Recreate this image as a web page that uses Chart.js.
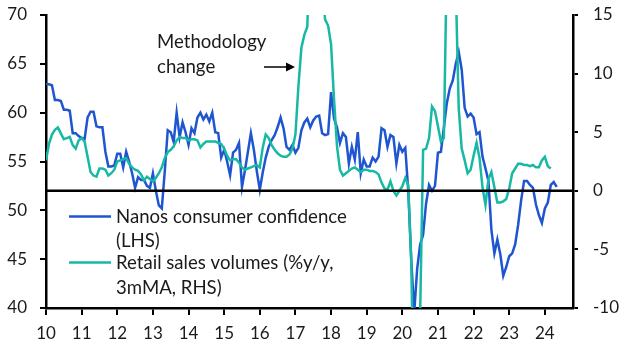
<!DOCTYPE html>
<html>
<head>
<meta charset="utf-8">
<script src="https://cdn.jsdelivr.net/npm/chart.js@4.4.1/dist/chart.umd.min.js"></script>
<style>
  html, body { margin: 0; padding: 0; background: #fff; }
</style>
</head>
<body>
<canvas id="chart" width="630" height="354"></canvas>
<script>
// monthly data, Jan 2010 onwards
const startYear = 2010;
const xTickLabels = ['10', '11', '12', '13', '14', '15', '16', '17', '18', '19', '20', '21', '22', '23', '24'];

// Nanos consumer confidence (LHS)
const nanos = [
  62.9, 62.9, 62.8, 61.3, 61.3, 61.2, 60.3, 60.3, 60.2, 57.9, 57.9, 57.6,
  57.4, 57.3, 59.5, 60.1, 60.1, 58.6, 58.5, 58.5, 56.0, 54.5, 54.5, 54.6,
  55.8, 55.8, 54.4, 56.0, 55.0, 53.8, 52.3, 53.4, 53.1, 53.1, 52.5, 52.3,
  53.8, 52.0, 50.5, 50.2, 54.0, 58.2, 58.0, 57.0, 60.0, 57.5, 59.0, 58.0,
  56.7, 58.4, 57.9, 59.5, 60.0, 59.3, 59.8, 59.1, 60.0, 58.0, 57.9, 55.4,
  56.2, 55.0, 53.6, 55.9, 56.2, 56.9, 52.4, 54.1, 56.0, 57.9, 56.2, 54.0,
  52.1, 53.9, 55.4, 56.5, 57.2, 57.7, 58.5, 59.5, 58.4, 56.5, 56.2, 56.7,
  55.9, 56.4, 58.2, 59.0, 59.4, 58.5, 59.2, 59.6, 59.7, 57.9, 57.7, 57.8,
  62.1, 59.4, 58.5, 56.9, 57.9, 57.5, 54.8, 56.5, 55.2, 58.0, 53.8, 55.2,
  54.5, 54.5, 55.4, 55.0, 55.5, 58.4, 58.2, 56.5, 57.7, 57.5, 54.8, 56.7,
  56.0, 56.4, 52.0, 45.0, 39.5, 44.0, 46.5, 47.5, 50.7, 52.6, 52.0, 52.5,
  55.9, 56.0, 58.5, 61.0, 62.5, 63.3, 65.0, 66.2, 64.4, 60.5, 59.6, 59.9,
  59.5, 57.8, 58.0, 55.5, 54.3, 53.0, 48.0, 45.6, 47.0, 45.5, 43.3, 44.2,
  45.3, 45.6, 46.5, 48.5, 51.0, 53.0, 53.0, 52.6, 52.3, 50.6, 49.5, 48.7,
  50.2, 50.8, 52.6, 52.9, 52.4
];

// Retail sales volumes, %y/y 3mMA (RHS)
const retail = [
  2.6, 4.0, 4.8, 5.2, 5.4, 4.9, 4.4, 4.5, 4.6, 3.9, 3.6, 4.3,
  4.5, 4.2, 2.9, 1.6, 1.3, 1.2, 1.9, 1.9, 1.8, 1.3, 1.5, 1.8,
  2.5, 2.6, 2.7, 2.8, 2.3, 2.0, 1.8, 1.7, 1.4, 0.9, 1.2, 1.0,
  0.8, 1.1, 1.5, 2.0, 2.8, 3.3, 3.5, 3.8, 4.3, 4.6, 4.5, 4.5,
  4.3, 4.4, 4.4, 4.3, 3.7, 4.0, 4.2, 4.2, 4.2, 4.2, 4.1, 4.0,
  3.6, 3.0, 2.6, 2.7, 2.7, 2.4, 2.0, 1.8, 1.9, 2.0, 2.1, 2.2,
  2.0, 3.7, 4.8, 4.5, 3.9, 3.5, 3.2, 3.0, 2.9, 2.9, 3.1, 3.6,
  4.8, 8.9, 12.2, 13.3, 14.0, 22.0, 26.0, 26.0, 22.0, 17.5, 14.6, 14.1,
  12.5, 7.8, 3.8, 1.8, 1.3, 1.5, 1.7, 1.9, 2.0, 1.8, 1.6, 1.8,
  1.8, 1.7, 1.7, 1.6, 1.4, 0.7, 0.2, 0.1, 0.8, 0.0, -0.4, 0.0,
  0.4, 1.1, 0.5, -6.0, -20.0, -22.0, -10.5, 3.5, 3.6, 4.5, 7.2, 6.8,
  5.5, 4.2, 4.5, 20.0, 28.0, 30.0, 17.5, 7.0, 3.6, 2.6, 1.5, 1.8,
  3.0, 4.1, 2.8, 0.3, -1.2, 1.0, 1.6, 0.3, -1.0, -1.0, -0.9, -0.7,
  0.2, 1.5, 1.9, 2.3, 2.3, 2.2, 2.2, 2.1, 2.2, 2.0, 2.0, 2.6,
  2.9, 2.1, 1.9
];

const blue = '#1f55d0';
const teal = '#17b8a4';
const fontFamily = 'Lato, "Open Sans", sans-serif';

const toPoints = arr => arr.map((v, i) => ({ x: startYear + i / 12, y: v }));

const overlay = {
  id: 'overlay',
  afterDatasetsDraw(chart) {
    const ctx = chart.ctx;
    const area = chart.chartArea;
    const y0 = chart.scales.yR.getPixelForValue(0);

    // zero line
    ctx.save();
    ctx.beginPath();
    ctx.moveTo(area.left, y0);
    ctx.lineTo(area.right, y0);
    ctx.lineWidth = 2.5;
    ctx.strokeStyle = '#000';
    ctx.stroke();

    ctx.font = '18.6px ' + fontFamily;
    ctx.fillStyle = '#1a1a1a';
    ctx.textBaseline = 'alphabetic';
    ctx.textAlign = 'left';

    // legend
    ctx.lineWidth = 2.5;
    ctx.strokeStyle = blue;
    ctx.beginPath(); ctx.moveTo(69, 216.5); ctx.lineTo(111, 216.5); ctx.stroke();
    ctx.strokeStyle = teal;
    ctx.beginPath(); ctx.moveTo(69, 262.5); ctx.lineTo(111, 262.5); ctx.stroke();
    ctx.fillText('Nanos consumer confidence', 116, 223);
    ctx.fillText('(LHS)', 116, 247);
    ctx.fillText('Retail sales volumes (%y/y,', 116, 269);
    ctx.fillText('3mMA, RHS)', 116, 294);

    // annotation
    ctx.fillText('Methodology', 157, 48);
    ctx.fillText('change', 157, 73);
    ctx.strokeStyle = '#000';
    ctx.lineWidth = 1.5;
    ctx.beginPath(); ctx.moveTo(264, 67); ctx.lineTo(288, 67); ctx.stroke();
    ctx.fillStyle = '#000';
    ctx.beginPath(); ctx.moveTo(295, 67); ctx.lineTo(286, 62.5); ctx.lineTo(286, 71.5); ctx.closePath(); ctx.fill();
    ctx.restore();
  }
};

const tickFont = { family: fontFamily, size: 17 };
const fixY = w => s => { s.width = w; s.paddingTop = 0; s.paddingBottom = 0; };

new Chart(document.getElementById('chart').getContext('2d'), {
  type: 'line',
  data: {
    datasets: [{
      label: 'Retail sales volumes (%y/y, 3mMA, RHS)',
      data: toPoints(retail),
      yAxisID: 'yR',
      borderColor: teal,
      borderWidth: 2.5,
      pointRadius: 0,
      tension: 0,
      order: 1
    }, {
      label: 'Nanos consumer confidence (LHS)',
      data: toPoints(nanos),
      yAxisID: 'yL',
      borderColor: blue,
      borderWidth: 2.5,
      pointRadius: 0,
      tension: 0,
      order: 2
    }]
  },
  options: {
    responsive: false,
    animation: false,
    layout: { autoPadding: false, padding: { top: 15, left: 0, right: 0, bottom: 0 } },
    plugins: {
      legend: { display: false },
      tooltip: { enabled: false }
    },
    scales: {
      x: {
        type: 'linear',
        min: 2010,
        max: 2024.79,
        ticks: {
          stepSize: 1,
          includeBounds: false,
          autoSkip: false,
          maxRotation: 0,
          padding: 8,
          color: '#1a1a1a',
          font: tickFont,
          callback: v => xTickLabels[Math.round(v - startYear)]
        },
        grid: { drawOnChartArea: false, drawTicks: true, tickLength: 7, color: '#000', lineWidth: 2 },
        border: { display: true, color: '#000', width: 2.5 },
        afterFit: s => { s.height = 46; s.paddingLeft = 0; s.paddingRight = 0; }
      },
      yL: {
        position: 'left',
        min: 40,
        max: 70,
        ticks: { stepSize: 5, padding: 13, color: '#1a1a1a', font: tickFont },
        grid: { drawOnChartArea: false, drawTicks: true, tickLength: 6, color: '#000', lineWidth: 2 },
        border: { display: true, color: '#000', width: 2.5 },
        afterFit: fixY(46)
      },
      yR: {
        position: 'right',
        min: -10,
        max: 15,
        ticks: { stepSize: 5, padding: 15, color: '#1a1a1a', font: tickFont },
        grid: { drawOnChartArea: false, drawTicks: true, tickLength: 5, color: '#000', lineWidth: 2 },
        border: { display: true, color: '#000', width: 2.5 },
        afterFit: fixY(57)
      }
    }
  },
  plugins: [overlay]
});
</script>
</body>
</html>
